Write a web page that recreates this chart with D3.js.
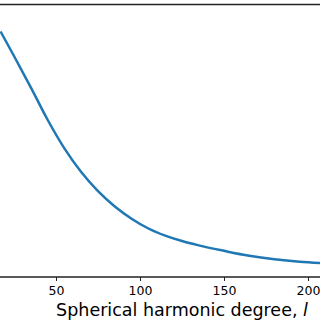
<!DOCTYPE html>
<html>
<head>
<meta charset="utf-8">
<script src="https://cdn.jsdelivr.net/npm/d3@7"></script>
<style>
  html, body { margin: 0; padding: 0; background: #fff; }
  svg { display: block; font-family: "DejaVu Sans", sans-serif; }
</style>
</head>
<body>
<div id="container"></div>
<script>
// Spherical harmonic degree vs. (normalised) value
const degrees = [17, 25, 35, 45, 55, 65, 75, 85, 95, 105, 115, 125, 135, 150, 165, 180, 195, 208];
const values  = [0.901, 0.811, 0.696, 0.577, 0.472, 0.385, 0.315, 0.259, 0.214, 0.178, 0.152, 0.132, 0.116, 0.096, 0.078, 0.065, 0.056, 0.051];
const xTicks  = [50, 100, 150, 200];

//_____ VARIABLES _____
const W = 320, H = 320;
const plotTop = 4.5, plotBottom = 277;

const data = degrees.map( ( l, i ) => ( { l, v: values[ i ] } ) );

//_____ SCALES _____
const xScale = d3.scaleLinear().domain( [ 0, 200 ] ).range( [ -28, 308 ] );
const yScale = d3.scaleLinear().domain( [ 0, 1 ] ).range( [ plotBottom, plotTop ] );

const svg = d3.select( '#container' ).append( 'svg' )
  .attr( 'width', W ).attr( 'height', H );

//_____ LINE _____
const line = d3.line()
  .x( d => xScale( d.l ) )
  .y( d => yScale( d.v ) )
  .curve( d3.curveMonotoneX );

svg.append( 'path' )
  .datum( data )
  .attr( 'fill', 'none' )
  .attr( 'stroke', '#1f77b4' )
  .attr( 'stroke-width', 2.5 )
  .attr( 'stroke-linejoin', 'round' )
  .attr( 'd', line );

//_____ SPINES _____
svg.append( 'line' )
  .attr( 'x1', 0 ).attr( 'x2', W )
  .attr( 'y1', plotTop ).attr( 'y2', plotTop )
  .attr( 'stroke', '#222' ).attr( 'stroke-width', 1.3 );

//_____ X AXIS _____
const xAxis = d3.axisBottom( xScale )
  .tickValues( xTicks )
  .tickSize( 4 )
  .tickPadding( 5 )
  .tickFormat( d3.format( 'd' ) );

const gx = svg.append( 'g' )
  .attr( 'id', 'x-axis' )
  .attr( 'transform', `translate(0, ${plotBottom})` )
  .call( xAxis );

gx.select( '.domain' ).remove();
gx.append( 'line' )
  .attr( 'x1', 0 ).attr( 'x2', W )
  .attr( 'stroke', '#222' ).attr( 'stroke-width', 1.3 );
gx.selectAll( '.tick line' ).attr( 'stroke', '#222' ).attr( 'stroke-width', 1 );
gx.selectAll( '.tick text' )
  .attr( 'fill', '#000' )
  .style( 'font-size', '12.5px' )
  .style( 'font-family', '"DejaVu Sans", sans-serif' );

//_____ AXIS LABEL _____
const label = svg.append( 'text' )
  .attr( 'x', 182 )
  .attr( 'y', 316 )
  .attr( 'text-anchor', 'middle' )
  .style( 'font-size', '17.5px' )
  .style( 'fill', '#000' );
label.append( 'tspan' ).text( 'Spherical harmonic degree, ' );
label.append( 'tspan' ).style( 'font-style', 'italic' ).text( 'l' );
</script>
</body>
</html>
